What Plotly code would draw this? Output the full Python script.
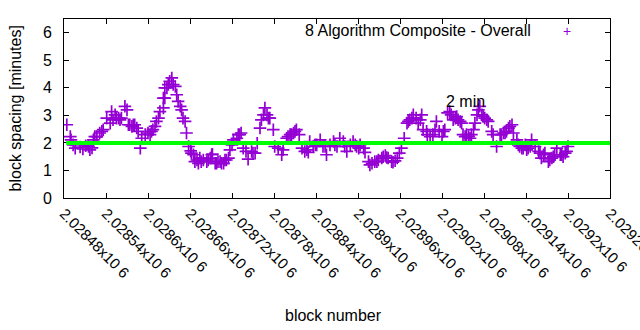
import plotly.graph_objects as go

# ---- data ----
block_offsets = [
    4, 9, 10, 13, 16, 23, 27, 31, 35, 37, 40, 42, 47, 54, 56, 61, 66, 68, 73, 78,
    82, 87, 90, 94, 99, 104, 106, 109, 111, 116, 120, 125, 130, 135, 137, 142, 144,
    142, 144, 147, 151, 154, 156, 159, 161, 163, 166, 168, 170, 173, 175, 178, 181,
    185, 190, 194, 199, 204, 209, 212, 216, 220, 225, 230, 235, 237, 240, 242, 247,
    251, 256, 260, 263, 268, 273, 276, 280, 282, 285, 287,
    290, 294, 299, 301, 306, 311, 313, 318, 323, 328, 332, 336, 340, 344, 349, 351,
    356, 361, 366, 370, 375, 380, 385, 390, 394, 399, 404, 409, 413, 418, 423, 428,
    430, 435, 440, 444, 449, 454, 459, 463, 468, 473, 476, 479, 482, 486, 490, 494,
    499, 503, 506, 511, 513, 518, 523, 527, 530, 532, 536, 540, 544, 548, 551, 556,
    561, 566, 570,
    568, 573, 578, 582, 585, 587, 590, 594, 597, 601, 606, 611, 613, 618, 623, 628,
    632, 637, 640, 642, 647, 649, 654, 659, 661, 666, 668, 673, 678, 682, 687, 692,
    697, 701, 704, 709, 713, 718, 720,
    44, 51, 70, 75, 80, 92, 97, 101, 123, 127, 132,
    149, 182, 187, 192, 196, 206, 211, 218, 223, 228, 232, 249, 253, 270,
    292, 320, 325, 330, 347, 359, 373, 387, 401, 416, 421,
    437, 447, 456, 461, 470, 492, 497, 509, 519, 542, 553, 559, 563,
    575, 580, 592, 599, 604, 625, 630, 635, 651, 656, 663, 680, 685, 694, 699, 711, 716,
]
spacing_minutes = [
    2.66, 2.23, 2.11, 1.93, 1.81, 1.85, 1.78, 1.90, 1.87, 1.75, 1.82, 2.11, 2.23, 2.42, 2.48, 2.90, 2.72, 3.14, 3.02, 2.90,
    2.90, 3.33, 3.20, 2.66, 2.66, 2.54, 2.42, 1.81, 2.17, 2.30, 2.36, 2.42, 2.60, 2.90, 3.14, 3.63, 4.00,
    3.27, 3.63, 4.00, 4.24, 4.36, 4.12, 4.05, 3.75, 3.51, 3.33, 3.20, 2.90, 2.78, 2.36, 1.87, 1.71,
    1.57, 1.38, 1.45, 1.38, 1.32, 1.45, 1.59, 1.26, 1.32, 1.26, 1.38, 1.45, 1.75, 1.93, 2.11, 2.17,
    2.30, 1.81, 1.69, 1.41, 1.69, 1.63, 1.99, 2.54, 2.84, 3.02, 3.27,
    3.02, 2.90, 2.48, 1.87, 1.81, 1.57, 1.75, 2.17, 2.30, 2.36, 2.48, 2.30, 1.81, 1.69, 1.66, 2.05,
    1.87, 1.93, 2.11, 1.87, 1.57, 1.93, 2.05, 1.87, 2.17, 2.05, 1.69, 1.93, 2.05, 1.87, 1.93, 1.81,
    1.66, 1.32, 1.26, 1.32, 1.38, 1.45, 1.54, 1.45, 1.32, 1.35, 1.45, 1.63, 1.81, 2.17, 2.72, 2.84,
    3.02, 2.90, 2.72, 3.02, 2.48, 2.42, 2.23, 2.30, 2.48, 2.78, 2.42, 2.23, 2.48, 3.09, 3.14, 2.84,
    2.96, 2.78, 2.30,
    2.72, 2.23, 2.23, 2.30, 2.48, 2.72, 3.02, 3.33, 3.02, 2.90, 2.78, 2.42, 2.30, 1.87, 2.30, 2.36,
    2.42, 2.60, 2.66, 2.36, 2.11, 1.93, 1.81, 1.93, 1.75, 1.87, 2.11, 1.87, 1.69, 1.45, 1.63, 1.32,
    1.45, 1.57, 1.81, 1.57, 1.50, 1.69, 1.87,
    2.23, 2.36, 2.84, 2.90, 2.84, 2.66, 2.60, 2.66, 2.30, 2.48, 2.78,
    4.12, 1.63, 1.32, 1.26, 1.32, 1.38, 1.57, 1.26, 1.32, 1.26, 1.38, 2.30, 2.36, 1.63,
    2.90, 2.23, 2.30, 2.42, 1.75, 1.93, 1.87, 1.93, 1.87, 1.93, 1.81,
    1.20, 1.32, 1.50, 1.47, 1.30, 2.78, 2.90, 2.84, 2.30, 2.42, 3.02, 2.90, 2.84,
    2.30, 2.17, 3.20, 2.96, 2.84, 2.30, 2.36, 2.54, 1.87, 1.81, 1.81, 1.63, 1.57, 1.38, 1.50, 1.57, 1.63,
]
first_block = 2028480
blocks = [first_block + o for o in block_offsets]

target_minutes = 2
x_tick_values = [2028480 + 60 * k for k in range(14)]
x_tick_labels = ["2.02848x10 6", "2.02854x10 6", "2.0286x10 6", "2.02866x10 6",
                 "2.02872x10 6", "2.02878x10 6", "2.02884x10 6", "2.0289x10 6",
                 "2.02896x10 6", "2.02902x10 6", "2.02908x10 6", "2.02914x10 6",
                 "2.0292x10 6", "2.02926x10 6"]
y_tick_values = [0, 1, 2, 3, 4, 5, 6]
series_name = "8 Algorithm Composite - Overall"
label_text = "2 min"
label_block = 2029023
label_value = 3.5

FONT = "Liberation Sans, Arial, sans-serif"
PURPLE = "#9400d3"

fig = go.Figure()
fig.add_trace(go.Scatter(
    x=blocks, y=spacing_minutes, mode="markers", name=series_name,
    marker=dict(symbol="cross-thin", size=9, line=dict(width=1.7, color=PURPLE), color=PURPLE),
    showlegend=False,
))

fig.add_shape(type="line", xref="paper", x0=0.004, x1=1, yref="y", y0=target_minutes, y1=target_minutes,
              line=dict(color="#00ff00", width=4), layer="above")

fig.add_annotation(x=label_block, y=label_value, xref="x", yref="y", text=label_text,
                   showarrow=False, xanchor="left", yanchor="middle",
                   font=dict(family=FONT, size=16, color="#000"))

# legend (gnuplot style: text then sample)
fig.add_annotation(x=0.859, y=0.933, xref="paper", yref="paper", text=series_name,
                   showarrow=False, xanchor="right", yanchor="middle",
                   font=dict(family=FONT, size=16, color="#000"))
fig.add_annotation(x=0.922, y=0.933, xref="paper", yref="paper", text="+",
                   showarrow=False, xanchor="center", yanchor="middle",
                   font=dict(family=FONT, size=14, color=PURPLE))

# axis titles
fig.add_annotation(x=-0.088, y=0.5, xref="paper", yref="paper", text="block spacing [minutes]",
                   showarrow=False, textangle=-90, xanchor="center", yanchor="middle",
                   font=dict(family=FONT, size=16, color="#000"))
fig.add_annotation(x=0.4945, y=-0.654, xref="paper", yref="paper", text="block number",
                   showarrow=False, xanchor="center", yanchor="middle",
                   font=dict(family=FONT, size=16, color="#000"))

fig.update_layout(
    width=640, height=330,
    margin=dict(l=64, r=30, t=19, b=132, autoexpand=False),
    paper_bgcolor="white", plot_bgcolor="white",
    font=dict(family=FONT, size=16, color="#000"),
    xaxis=dict(range=[2028480, 2029260], tickmode="array", tickvals=x_tick_values,
               ticktext=x_tick_labels, tickangle=45, ticks="inside", ticklen=5,
               tickcolor="#000", showline=True, linecolor="#000", linewidth=1,
               mirror="ticks", showgrid=False, zeroline=False,
               ticklabeloverflow="allow",
               tickfont=dict(family=FONT, size=15, color="#000")),
    yaxis=dict(range=[0, 6.5], tickmode="array", tickvals=y_tick_values,
               ticks="inside", ticklen=5, tickcolor="#000", showline=True,
               linecolor="#000", linewidth=1, mirror="ticks", showgrid=False,
               zeroline=False, ticklabelstandoff=8,
               tickfont=dict(family=FONT, size=16, color="#000")),
)

fig.write_html("out.html")
